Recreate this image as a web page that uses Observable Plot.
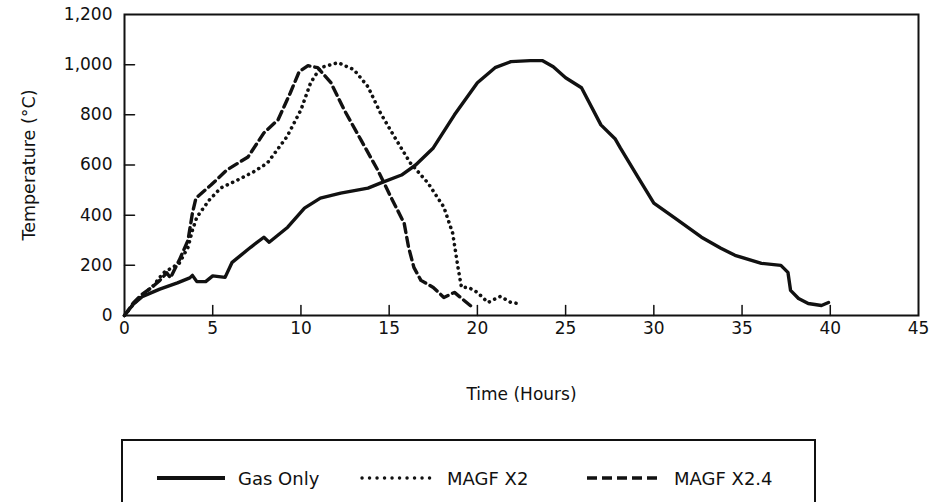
<!DOCTYPE html>
<html>
<head>
<meta charset="utf-8">
<script src="https://cdn.jsdelivr.net/npm/d3@7"></script>
<script src="https://cdn.jsdelivr.net/npm/@observablehq/plot@0.6"></script>
<style>
  html, body { margin: 0; padding: 0; background: #fff; }
  #chart { width: 936px; }
  #legend { display: block; }
  svg text { font-family: "DejaVu Sans", "Liberation Sans", Arial, sans-serif; }
  #chart svg text { font-size: 17px; fill: #111; }
  #chart svg [aria-label="x-axis label"] text { font-size: 17px; }
  #chart svg [aria-label="y-axis label"] text { font-size: 17.5px; }
</style>
</head>
<body>
<div id="chart"></div>
<svg id="legend" width="936" height="72"></svg>
<script>
// ---- data ----
const xTicks = [0, 5, 10, 15, 20, 25, 30, 35, 40, 45];
const yTicks = [0, 200, 400, 600, 800, 1000, 1200];

const seriesNames = ["Gas Only", "MAGF X2", "MAGF X2.4"];

const gasHours = [0, 0.5, 1, 2, 3, 3.7, 3.85, 4.1, 4.6, 5, 5.7, 6.1, 7.15, 7.9, 8.2, 9.25, 10.2, 11.1, 12.25, 13.8, 14.5, 15.7, 16.5, 17.5, 18.7, 20, 21, 21.9, 23, 23.7, 24.3, 25, 25.9, 27, 27.8, 28.1, 29.1, 30, 31.2, 32.7, 33.8, 34.6, 36.1, 37.2, 37.6, 37.75, 38.2, 38.75, 39.5, 39.9];
const gasTemp  = [0, 45, 75, 105, 130, 150, 160, 135, 135, 158, 152, 212, 272, 312, 292, 352, 428, 468, 488, 508, 528, 560, 600, 668, 800, 928, 988, 1012, 1016, 1016, 992, 948, 908, 760, 705, 668, 552, 448, 388, 312, 268, 240, 208, 200, 172, 100, 68, 48, 40, 52];

const magf2Hours = [0, 0.5, 1, 1.65, 2.2, 3.1, 3.6, 3.85, 4.1, 4.8, 5.45, 6.4, 7.3, 8.1, 9.2, 10.0, 10.55, 11.1, 12.1, 13.0, 13.8, 14.5, 15.3, 16.2, 17.2, 18.1, 18.6, 18.9, 19.1, 19.5, 20.0, 20.6, 21.3, 21.9, 22.3];
const magf2Temp  = [0, 45, 80, 120, 170, 208, 272, 340, 392, 460, 508, 540, 572, 608, 712, 820, 928, 988, 1008, 980, 912, 808, 712, 608, 528, 432, 328, 192, 112, 112, 92, 52, 76, 52, 48];

const magf24Hours = [0, 0.5, 1, 1.6, 2.0, 2.4, 2.6, 3.1, 3.6, 3.85, 4.05, 4.9, 5.8, 7.0, 7.9, 8.7, 9.4, 9.9, 10.4, 10.95, 11.7, 12.45, 13.4, 14.35, 15.1, 15.85, 16.1, 16.4, 16.8, 17.5, 18.1, 18.7, 19.25, 19.8];
const magf24Temp  = [0, 50, 85, 115, 140, 170, 150, 220, 300, 408, 468, 520, 580, 632, 728, 780, 888, 972, 996, 988, 928, 820, 700, 580, 472, 368, 272, 192, 140, 112, 72, 92, 60, 28];

// ---- build tables ----
const toRows = (hs, ts) => hs.map((h, i) => ({t: h, v: ts[i]}));
const gas = toRows(gasHours, gasTemp);
const magf2 = toRows(magf2Hours, magf2Temp);
const magf24 = toRows(magf24Hours, magf24Temp);

const INK = "#111";
const FONT = "'DejaVu Sans', 'Liberation Sans', Arial, sans-serif";
const tickShape = {draw(ctx, l) { ctx.moveTo(0, 0); ctx.lineTo(0, -l); }};

const chart = Plot.plot({
  width: 936,
  height: 430,
  marginLeft: 124,
  marginRight: 18,
  marginTop: 14,
  marginBottom: 115,
  style: {fontFamily: FONT, fontSize: "17px", color: INK, background: "#fff", overflow: "visible"},
  x: {domain: [0, 45], label: null},
  y: {domain: [0, 1200], label: null},
  marks: [
    Plot.axisX(xTicks, {tickSize: 0, tickPadding: 6, tickFormat: d => String(d),
      label: "Time (Hours)", labelAnchor: "center", labelOffset: 84, labelArrow: false}),
    Plot.axisY(yTicks, {tickSize: 0, tickPadding: 12, tickFormat: d3.format(","),
      label: "Temperature (°C)", labelAnchor: "center", labelOffset: 102, labelArrow: false}),
    Plot.vector(xTicks.slice(1, -1), {x: d => d, frameAnchor: "bottom", length: 10, anchor: "start",
      rotate: 0, shape: tickShape, stroke: INK, strokeWidth: 1.5}),
    Plot.vector(yTicks.slice(1, -1), {y: d => d, frameAnchor: "left", length: 10, anchor: "start",
      rotate: 90, shape: tickShape, stroke: INK, strokeWidth: 1.5}),
    Plot.line(magf2, {x: "t", y: "v", stroke: INK, strokeWidth: 3.6, strokeDasharray: "0.1 5.8", strokeLinecap: "round"}),
    Plot.line(magf24, {x: "t", y: "v", stroke: INK, strokeWidth: 3.4, strokeDasharray: "9 5"}),
    Plot.line(gas, {x: "t", y: "v", stroke: INK, strokeWidth: 3.4}),
    Plot.frame({stroke: INK, strokeWidth: 2})
  ]
});
document.getElementById("chart").append(chart);

// ---- legend (below the chart) ----
const lg = d3.select("#legend");
lg.append("rect").attr("x", 122).attr("y", 10).attr("width", 693).attr("height", 90)
  .attr("fill", "none").attr("stroke", INK).attr("stroke-width", 2);
const items = [
  {name: seriesNames[0], x0: 157, x1: 225, tx: 238, dash: null, w: 4, cap: "butt"},
  {name: seriesNames[1], x0: 362, x1: 430, tx: 447, dash: "0.1 7.4", w: 3.4, cap: "round"},
  {name: seriesNames[2], x0: 587, x1: 657, tx: 674, dash: "10 5", w: 3.5, cap: "butt"}
];
const cy = 48;
items.forEach(it => {
  const ln = lg.append("line").attr("x1", it.x0).attr("x2", it.x1).attr("y1", cy).attr("y2", cy)
    .attr("stroke", INK).attr("stroke-width", it.w).attr("stroke-linecap", it.cap);
  if (it.dash) ln.attr("stroke-dasharray", it.dash);
  lg.append("text").attr("x", it.tx).attr("y", cy + 6.5).attr("fill", INK)
    .attr("font-size", 18).text(it.name);
});
</script>
</body>
</html>
